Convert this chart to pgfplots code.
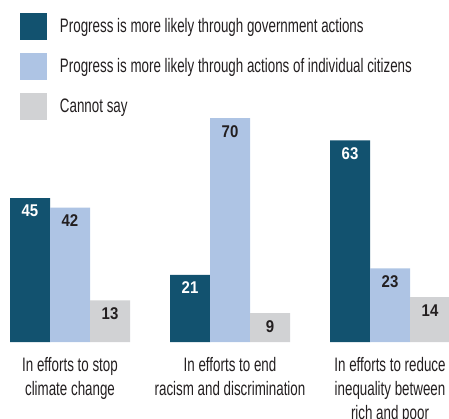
\documentclass[border=0pt]{standalone}
\usepackage{pgfplots}
\pgfplotsset{compat=1.18}
\usepackage{fontspec}
\setmainfont{Liberation Sans}[FakeStretch=0.685]
\newfontfamily\numfont{Liberation Sans}[FakeStretch=0.88]
\definecolor{cdark}{HTML}{12526F}
\definecolor{clight}{HTML}{AEC4E4}
\definecolor{cgrey}{HTML}{D1D2D4}
\definecolor{ctext}{HTML}{231F20}
\begin{document}
\begin{tikzpicture}
\useasboundingbox (0,0) rectangle (449pt,418pt);
\begin{axis}[
  at={(0pt,76pt)}, anchor=south west,
  scale only axis, width=449pt, height=224pt,
  xmin=-0.4375, xmax=2.36875, ymin=0, ymax=70,
  ybar=0pt, bar width=40pt,
  axis line style={draw=none},
  major tick length=0pt,
  ytick=\empty,
  xtick={0,1,2},
  xticklabels={{In efforts to stop\\climate change},{In efforts to end\\racism and discrimination},{In efforts to reduce\\inequality between\\rich and poor}},
  xticklabel style={align=center, font=\fontsize{19.5}{24}\selectfont, text=ctext, inner sep=0pt, anchor=north, yshift=-15pt},
  nodes near coords={\numfont\bfseries\pgfmathprintnumber{\pgfplotspointmeta}},
  /pgf/number format/assume math mode=true,
  every node near coord/.append style={anchor=north, inner sep=0pt, yshift=-7pt, font=\fontsize{17}{17}\selectfont},
  legend style={at={(0.04454,1.46875)}, anchor=north west, draw=none, fill=none,
    inner sep=0pt, outer sep=0pt, row sep=13pt, column sep=0pt,
    nodes={inner sep=0pt, text=ctext, font=\fontsize{19.5}{19.5}\selectfont},
    cells={anchor=west}},
  legend image code/.code={\fill[#1] (0pt,-13.5pt) rectangle (27pt,13.5pt);},
  legend cell align=left,
]
\addplot[fill=cdark, draw=none, every node near coord/.append style={text=white}]
  coordinates {(0,45) (1,21) (2,63)};
\addplot[fill=clight, draw=none, every node near coord/.append style={text=ctext}]
  coordinates {(0,42) (1,70) (2,23)};
\addplot[fill=cgrey, draw=none, every node near coord/.append style={text=ctext}]
  coordinates {(0,13) (1,9) (2,14)};
\legend{\hspace{13pt}Progress is more likely through government actions,
        \hspace{13pt}Progress is more likely through actions of individual citizens,
        \hspace{13pt}Cannot say}
\end{axis}
\end{tikzpicture}
\end{document}
